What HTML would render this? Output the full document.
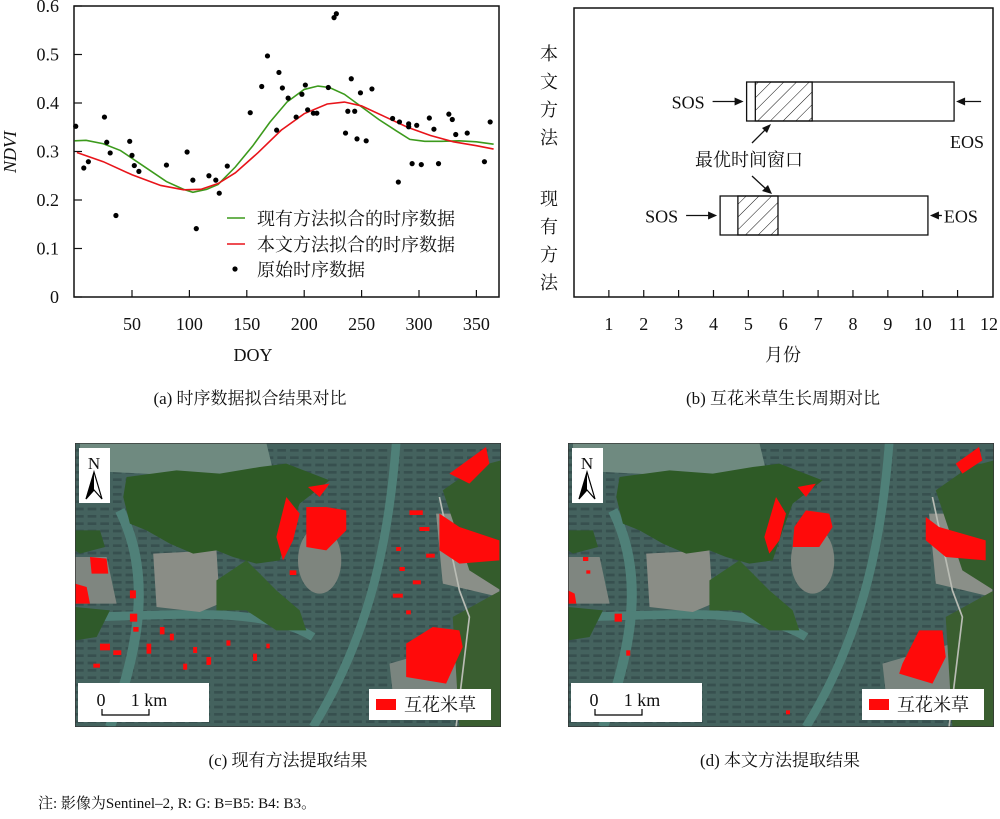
<!DOCTYPE html>
<html><head><meta charset="utf-8"><style>
html,body{margin:0;padding:0;background:#fff;}
svg text{font-family:"Liberation Serif","Noto Serif CJK SC",serif;fill:#111;}
</style></head><body>
<svg id="root" width="1000" height="814" viewBox="0 0 1000 814" xmlns="http://www.w3.org/2000/svg">
<defs>
<pattern id="hatch" patternUnits="userSpaceOnUse" width="9" height="9" patternTransform="rotate(45)">
<line x1="0" y1="0" x2="0" y2="9" stroke="#111" stroke-width="1"/>
</pattern>
</defs>
<g id="chartA"></g>
<g id="chartB"></g>
<text x="250" y="404" text-anchor="middle" font-size="17">(a) 时序数据拟合结果对比</text>
<text x="783" y="404" text-anchor="middle" font-size="17">(b) 互花米草生长周期对比</text>
<g id="mapC"></g>
<g id="mapD"></g>
<text x="288" y="766" text-anchor="middle" font-size="17">(c) 现有方法提取结果</text>
<text x="780" y="766" text-anchor="middle" font-size="17">(d) 本文方法提取结果</text>
<text x="38" y="808" font-size="15">注: 影像为Sentinel–2, R: G: B=B5: B4: B3。</text>
</svg>
<script>
const NS="http://www.w3.org/2000/svg";
// ---- chart (a) data ----
const obsDoy=[1,8,12,26,28,31,36,48,50,52,56,80,98,103,106,117,123,126,133,153,163,168,176,178,181,186,193,198,201,203,208,211,221,226,228,236,238,241,244,246,249,254,259,277,282,283,291,291,294,298,302,309,313,317,326,329,332,342,357,362];
const obsNdvi=[0.352,0.266,0.279,0.371,0.319,0.297,0.168,0.321,0.292,0.271,0.259,0.272,0.299,0.241,0.141,0.250,0.241,0.214,0.270,0.380,0.434,0.497,0.344,0.463,0.431,0.410,0.371,0.418,0.437,0.386,0.379,0.379,0.432,0.576,0.584,0.338,0.383,0.450,0.383,0.326,0.421,0.322,0.429,0.368,0.237,0.361,0.357,0.351,0.275,0.354,0.273,0.369,0.346,0.275,0.377,0.366,0.335,0.338,0.279,0.361];
const greenDoy=[0,10,25,40,60,80,95,103,115,125,140,155,170,185,200,212,222,235,250,265,280,292,305,320,335,350,365];
const greenNdvi=[0.322,0.323,0.316,0.302,0.270,0.238,0.222,0.216,0.222,0.232,0.268,0.311,0.360,0.402,0.428,0.435,0.432,0.418,0.392,0.366,0.343,0.325,0.321,0.321,0.322,0.320,0.315];
const redDoy=[2,25,50,75,95,110,125,140,160,180,200,220,235,250,270,290,310,330,350,365];
const redNdvi=[0.298,0.279,0.252,0.230,0.221,0.222,0.234,0.256,0.298,0.344,0.378,0.398,0.402,0.394,0.372,0.350,0.333,0.320,0.312,0.305];
const xTicksA=[50,100,150,200,250,300,350];
const yTicksA=[0,0.1,0.2,0.3,0.4,0.5,0.6];
// ---- chart (b) data ----
const monthTicks=[1,2,3,4,5,6,7,8,9,10,11,12];
const methods=["本文方法","现有方法"];
const sosMonth=[4.95,4.19];
const eosMonth=[10.9,10.15];
const winStart=[5.2,4.7];
const winEnd=[6.83,5.85];

function el(tag,attrs,parent,text){const e=document.createElementNS(NS,tag);for(const k in attrs)e.setAttribute(k,attrs[k]);if(text!==undefined)e.textContent=text;parent.appendChild(e);return e;}

// chart A
(function(){
 const g=document.getElementById('chartA');
 const L=74.6,R=499,T=6,B=297;
 const xs=d=>L+d*1.148, ys=v=>B-v*485;
 const frame=el('rect',{x:74,y:6,width:425,height:291,fill:'none',stroke:'#111','stroke-width':1.5},g);
 
 xTicksA.forEach(t=>{const x=xs(t);
  const l=el('line',{x1:x,x2:x,y1:B,y2:B-7,stroke:'#111','stroke-width':1.2},g);
  
  const tx=el('text',{x:x,y:B+33,'text-anchor':'middle','font-size':18},g,String(t));
  });
 yTicksA.forEach(t=>{const y=ys(t);
  const l=el('line',{x1:74,x2:82,y1:y,y2:y,stroke:'#111','stroke-width':1.2},g);
  
  const tx=el('text',{x:59,y:y+6,'text-anchor':'end','font-size':18},g,t===0?'0':t.toFixed(1));
  });
 const yt=el('text',{x:0,y:0,'text-anchor':'middle','font-size':18,'font-style':'italic',transform:'translate(16,152) rotate(-90)'},g,'NDVI');
 
 const xt=el('text',{x:253,y:361,'text-anchor':'middle','font-size':18},g,'DOY');
 
 const gp=el('polyline',{points:greenDoy.map((d,i)=>xs(d)+','+ys(greenNdvi[i])).join(' '),fill:'none',stroke:'#3c9a1c','stroke-width':1.6},g);
 
 const rp=el('polyline',{points:redDoy.map((d,i)=>xs(d)+','+ys(redNdvi[i])).join(' '),fill:'none',stroke:'#e8141a','stroke-width':1.6},g);
 
 obsDoy.forEach((d,i)=>{const c=el('circle',{cx:xs(d),cy:ys(obsNdvi[i]),r:2.6,fill:'#000'},g);
  });
 const lg=el('g',{},g);
 el('line',{x1:227,x2:245,y1:218,y2:218,stroke:'#3c9a1c','stroke-width':1.6},lg);
 el('text',{x:257,y:225,'font-size':18},lg,'现有方法拟合的时序数据');
 el('line',{x1:227,x2:245,y1:244,y2:244,stroke:'#e8141a','stroke-width':1.6},lg);
 el('text',{x:257,y:251,'font-size':18},lg,'本文方法拟合的时序数据');
 el('circle',{cx:235,cy:269,r:2.6,fill:'#000'},lg);
 el('text',{x:257,y:276,'font-size':18},lg,'原始时序数据');
})();

// chart B
(function(){
 const g=document.getElementById('chartB');
 const L=574,B=297;const xs=m=>L+m*34.87;
 const fr=el('rect',{x:574,y:8,width:419,height:289,fill:'none',stroke:'#111','stroke-width':1.5},g);
 
 monthTicks.forEach(m=>{const x=xs(m);
  if(m<12){const l=el('line',{x1:x,x2:x,y1:B,y2:B-7,stroke:'#111','stroke-width':1.2},g);
  }
  const t=el('text',{x:Math.min(x,989),y:B+33,'text-anchor':'middle','font-size':18},g,String(m));
  });
 const xt=el('text',{x:783,y:361,'text-anchor':'middle','font-size':18},g,'月份');
 
 const rowY=[82,196],rowH=39,labY=[45,190];
 methods.forEach((m,i)=>{
  const lab=el('text',{x:549,y:labY[i],'text-anchor':'middle','font-size':18},g);
  
  [...m].forEach((ch,k)=>el('tspan',{x:549,y:labY[i]+15+k*28},lab,ch));
  const y=rowY[i];
  const bar=el('rect',{x:xs(sosMonth[i]),y:y,width:xs(eosMonth[i])-xs(sosMonth[i]),height:rowH,fill:'#fff',stroke:'#111','stroke-width':1.3},g);
  
  const w=el('rect',{x:xs(winStart[i]),y:y,width:xs(winEnd[i])-xs(winStart[i]),height:rowH,fill:'url(#hatch)',stroke:'#111','stroke-width':1.3},g);
  
  const cy=y+rowH/2;
  const sx=xs(sosMonth[i]);
  const st=el('text',{x:sx-42,y:cy+7,'text-anchor':'end','font-size':18},g,'SOS');
  
  el('line',{x1:sx-34,x2:sx-6,y1:cy,y2:cy,stroke:'#111','stroke-width':1.3},g);
  el('polygon',{points:`${sx-3},${cy} ${sx-12},${cy-4} ${sx-12},${cy+4}`,fill:'#111'},g);
  const ex=xs(eosMonth[i]);
  el('line',{x1:ex+5,x2:ex+(i==0?27:14),y1:cy,y2:cy,stroke:'#111','stroke-width':1.3},g);
  el('polygon',{points:`${ex+2},${cy} ${ex+11},${cy-4} ${ex+11},${cy+4}`,fill:'#111'},g);
  const et=el('text',i==0?{x:967,y:y+66,'text-anchor':'middle','font-size':18}:{x:ex+16,y:cy+7,'font-size':18},g,'EOS');
  
 });
 const ann=el('text',{x:749,y:166,'text-anchor':'middle','font-size':18},g,'最优时间窗口');
 
 el('line',{x1:752,x2:766,y1:143,y2:129,stroke:'#111','stroke-width':1.3},g);
 el('polygon',{points:'771,124 762,128 767,133',fill:'#111'},g);
 el('line',{x1:752,x2:766,y1:176,y2:189,stroke:'#111','stroke-width':1.3},g);
 el('polygon',{points:'772,194 762,191 768,185',fill:'#111'},g);
})();

// maps
function drawMap(gid,x0,reds,dots){
 const g=document.getElementById(gid);
 const s=el('svg',{x:x0,y:443,width:426,height:284,viewBox:'45 38 1280 852',preserveAspectRatio:'none'},g);
 el('rect',{x:45,y:38,width:1280,height:852,fill:'#44625e'},s);
 for(let yy=60;yy<880;yy+=22){el('line',{x1:45,x2:1325,y1:yy,y2:yy,stroke:'#37504f','stroke-width':8,'stroke-dasharray':'26 12'},s);}
 el('path',{d:'M60 38 L620 38 L640 120 L460 140 L250 130 L60 120 Z',fill:'#6f8a80'},s);
 el('path',{d:'M1010 38 C990 300 940 600 760 890',fill:'none',stroke:'#4f8078','stroke-width':26},s);
 el('path',{d:'M180 240 C260 400 260 600 150 890',fill:'none',stroke:'#4f8078','stroke-width':30},s);
 el('path',{d:'M45 560 C300 560 600 520 760 620',fill:'none',stroke:'#4f8078','stroke-width':26},s);
 el('path',{d:'M280 370 L470 360 L480 520 L420 545 L290 530 Z',fill:'#8a8d86'},s);
 el('ellipse',{cx:780,cy:390,rx:65,ry:100,fill:'#7e857e'},s);
 el('path',{d:'M45 380 L140 380 L170 520 L45 520 Z',fill:'#7f8680'},s);
 el('path',{d:'M1130 250 L1320 250 L1320 500 L1150 460 Z',fill:'#8a8f88'},s);
 el('path',{d:'M990 700 L1200 640 L1200 780 L1000 790 Z',fill:'#7a857f'},s);
 el('path',{d:'M200 140 L350 120 L480 130 L600 110 L680 100 L810 150 L720 220 L690 300 L660 390 L590 400 L520 380 L470 360 L400 370 L330 340 L260 300 L210 280 L190 200 Z',fill:'#2e5a26'},s);
 el('path',{d:'M470 450 L560 390 L600 430 L650 480 L720 540 L740 600 L650 600 L560 540 L470 540 Z',fill:'#35612c'},s);
 el('path',{d:'M1150 180 L1250 110 L1325 90 L1325 480 L1230 420 L1190 300 Z',fill:'#345c2c'},s);
 el('path',{d:'M1180 560 L1325 480 L1325 890 L1200 890 Z',fill:'#3a5e30'},s);
 el('path',{d:'M45 300 L120 300 L135 350 L60 370 L45 360 Z',fill:'#2f5a2a'},s);
 el('path',{d:'M45 530 L150 540 L110 620 L45 630 Z',fill:'#2f5a2a'},s);
 el('path',{d:'M1140 200 L1200 480 L1230 560 L1190 890',fill:'none',stroke:'#b9bcb4','stroke-width':5},s);
 reds.forEach(p=>{const r=el('path',{d:p,fill:'#ff0a0a'},s);
  });
 dots.forEach(d=>el('rect',{x:d[0],y:d[1],width:d[2],height:d[3],fill:'#ff0a0a'},s));
 el('rect',{x:45,y:38,width:1280,height:852,fill:'none',stroke:'#333','stroke-width':4},s);
 const nb=el('g',{},g);
 el('rect',{x:x0+4,y:448,width:31,height:55,fill:'#fff'},nb);
 el('text',{x:x0+19,y:469,'text-anchor':'middle','font-size':17},nb,'N');
 el('polygon',{points:`${x0+19},472 ${x0+11},499 ${x0+19},490 ${x0+27},499`,fill:'#fff',stroke:'#000','stroke-width':1.2},nb);
 el('polygon',{points:`${x0+19},472 ${x0+11},499 ${x0+19},490`,fill:'#000'},nb);
 const sb=el('g',{},g);
 el('rect',{x:x0+3,y:683,width:131,height:39,fill:'#fff'},sb);
 el('text',{x:x0+26,y:706,'text-anchor':'middle','font-size':18},sb,'0');
 el('text',{x:x0+74,y:706,'text-anchor':'middle','font-size':18},sb,'1 km');
 el('path',{d:`M${x0+27} 709 L${x0+27} 715 L${x0+74} 715 L${x0+74} 709`,fill:'none',stroke:'#000','stroke-width':1.2},sb);
 const lg=el('g',{},g);
 el('rect',{x:x0+294,y:689,width:122,height:31,fill:'#fff'},lg);
 el('rect',{x:x0+301,y:699,width:20,height:11,fill:'#ff0a0a'},lg);
 el('text',{x:x0+329,y:711,'font-size':18},lg,'互花米草');
}
const redsC=['M740 230 L800 230 L860 240 L860 300 L800 360 L740 350 Z','M1140 250 L1200 290 L1320 330 L1320 390 L1200 400 L1140 360 Z','M1040 640 L1120 590 L1200 600 L1210 650 L1160 760 L1040 740 Z','M1170 130 L1280 50 L1290 100 L1230 160 Z','M650 320 L680 200 L720 250 L700 330 L670 390 Z','M90 380 L140 385 L145 430 L95 430 Z','M45 460 L80 470 L90 520 L45 520 Z','M745 170 L810 160 L780 200 Z'];
const dotsC=[[300,590,14,22],[330,610,12,20],[260,640,14,30],[120,640,30,20],[160,660,24,14],[100,700,20,12],[400,650,12,18],[440,680,14,22],[500,630,12,16],[580,670,12,22],[620,640,10,14],[370,700,12,18],[210,480,18,24],[210,550,22,24],[1050,240,40,14],[1080,290,30,12],[1000,490,30,12],[1060,450,24,12],[1100,370,26,12],[1020,410,16,12],[1010,350,14,12],[1040,540,14,12],[690,420,20,14],[440,690,12,14],[220,590,16,14]];
const redsD=['M725 290 L760 240 L830 250 L840 290 L800 350 L720 350 Z','M1120 260 L1160 290 L1300 330 L1300 390 L1180 380 L1120 330 Z','M1050 700 L1100 600 L1170 600 L1180 680 L1140 760 L1040 730 Z','M1210 100 L1280 50 L1290 90 L1230 130 Z','M635 320 L670 200 L700 250 L680 330 L650 370 Z','M45 480 L65 490 L70 520 L45 520 Z','M735 170 L790 160 L760 200 Z'];
const dotsD=[[185,550,22,24],[220,660,12,16],[90,380,16,12],[100,420,12,10],[700,840,12,12]];
drawMap('mapC',75,redsC,dotsC);
drawMap('mapD',568,redsD,dotsD);
</script>
</body></html>
